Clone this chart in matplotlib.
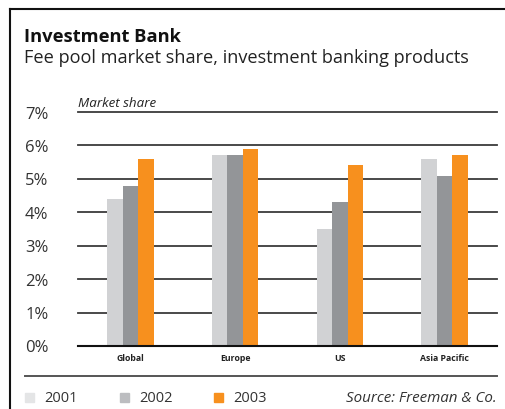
import matplotlib
matplotlib.use("Agg")
import matplotlib.pyplot as plt
from matplotlib.patches import Rectangle
from matplotlib.lines import Line2D
import numpy as np

categories = ["Global", "Europe", "US", "Asia Pacific"]
years = ["2001", "2002", "2003"]
share_2001 = [4.4, 5.7, 3.5, 5.6]
share_2002 = [4.8, 5.7, 4.3, 5.1]
share_2003 = [5.6, 5.9, 5.4, 5.7]
y_ticks = [0, 1, 2, 3, 4, 5, 6, 7]
y_tick_labels = ["0%", "1%", "2%", "3%", "4%", "5%", "6%", "7%"]

bar_colors = ["#d1d2d4", "#939598", "#f7901e"]
legend_colors = ["#e4e5e6", "#bcbdc0", "#f7901e"]

plt.rcParams['font.family'] = ['Open Sans', 'DejaVu Sans']

W, H = 505, 410
fig = plt.figure(figsize=(W / 100, H / 100), dpi=100)

def fx(px):
    return px / W

def fy(py):
    return 1 - py / H

ax = fig.add_axes([fx(78), fy(347), fx(497) - fx(78), fy(113) - fy(347)])
ax.set_xlim(-0.5, 3.5)
ax.set_ylim(0, 7)

x = np.arange(len(categories))
bw = 0.148
for i, vals in enumerate([share_2001, share_2002, share_2003]):
    ax.bar(x + (i - 1) * bw, vals, width=bw, color=bar_colors[i], zorder=3)

for t in y_ticks[1:]:
    ax.axhline(t, color="#3a3a3a", lw=1.3, zorder=1, clip_on=False)
ax.axhline(0, color="#111111", lw=1.5, zorder=4, clip_on=False)

for s in ax.spines.values():
    s.set_visible(False)
ax.set_yticks([])
ax.set_xticks(x)
ax.set_xticklabels(categories, fontsize=6.3, fontweight="bold", color="#222222")
ax.tick_params(axis="x", length=0, pad=5)
ax.patch.set_alpha(0)

# y tick labels
for t, lab in zip(y_ticks, y_tick_labels):
    yp = ax.transData.transform((0, t))[1]
    fig.text(fx(48.5), (yp - 1.5) / H, lab, ha="right", va="center", fontsize=12,
             color="#333333")

# frame lines
fig.add_artist(Line2D([fx(10), fx(10)], [fy(10), 0], color="#111111", lw=1.5))
fig.add_artist(Line2D([fx(10), 1], [fy(10), fy(10)], color="#111111", lw=1.5))
fig.add_artist(Line2D([fx(25), fx(497)], [fy(377), fy(377)], color="#555555", lw=1.4))

# titles
fig.text(fx(24), fy(41.7), "Investment Bank", fontsize=13.2, fontweight="bold",
         color="#111111", va="baseline", ha="left")
fig.text(fx(24), fy(63), "Fee pool market share, investment banking products",
         fontsize=13.1, color="#222222", va="baseline", ha="left")
fig.text(fx(78), fy(107), "Market share", fontsize=9.6, style="italic",
         color="#222222", va="baseline", ha="left")

# legend
leg_x = [25, 120, 214]
for lx, col, yr in zip(leg_x, legend_colors, years):
    fig.add_artist(Rectangle((fx(lx), fy(403)), fx(9), 9 / H, color=col,
                             transform=fig.transFigure))
    fig.text(fx(lx + 19), fy(398.5), yr, fontsize=10.5, color="#333333",
             va="center", ha="left")
fig.text(fx(497), fy(398.5), "Source: Freeman & Co.", fontsize=10.9, style="italic",
         color="#333333", va="center", ha="right")

fig.savefig("out.png", dpi=100)
